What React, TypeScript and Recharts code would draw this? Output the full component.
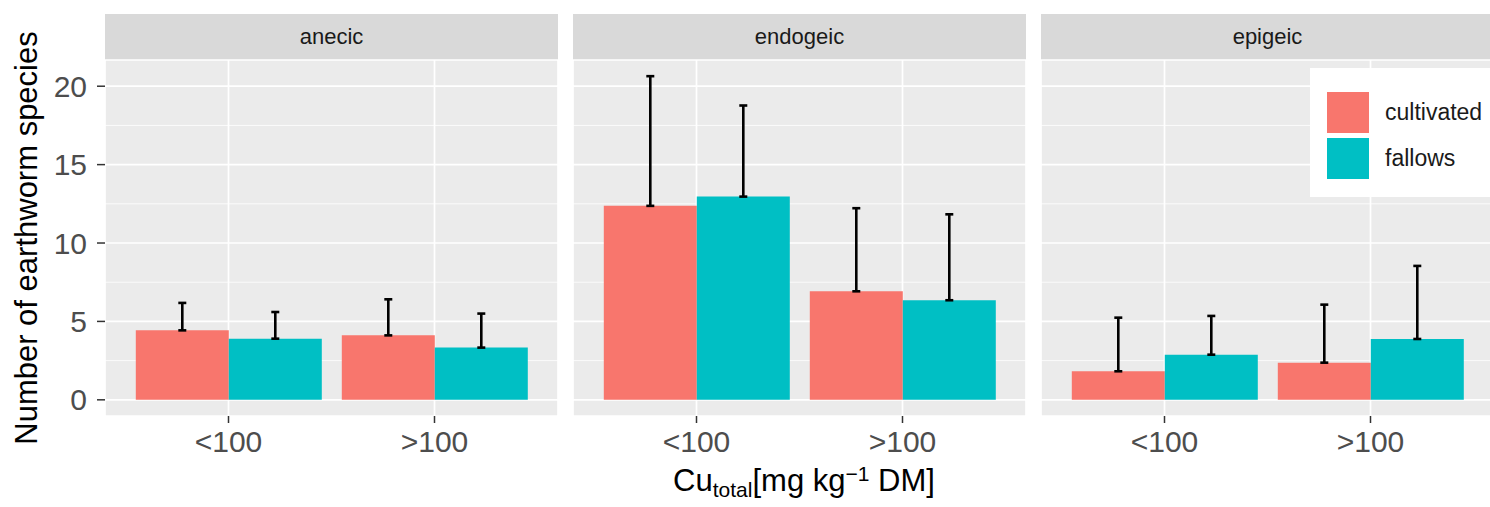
import React from 'react';
import { BarChart, Bar, XAxis, YAxis, CartesianGrid, ErrorBar } from 'recharts';

const facets = ['anecic', 'endogeic', 'epigeic'];
const categories = ['<100', '>100'];
const seriesNames = ['cultivated', 'fallows'];
const seriesColors = ['#F8766D', '#00BFC4'];

// mean values per facet (rows) and Cu class (cols)
const cultivatedMean = [
  [4.43, 4.11],
  [12.37, 6.92],
  [1.82, 2.37],
];
const cultivatedUpper = [
  [6.18, 6.41],
  [20.64, 12.22],
  [5.24, 6.07],
];
const fallowsMean = [
  [3.9, 3.33],
  [12.96, 6.35],
  [2.88, 3.88],
];
const fallowsUpper = [
  [5.6, 5.5],
  [18.77, 11.83],
  [5.35, 8.54],
];

const yTicks = [0, 5, 10, 15, 20];
const yMinor = [2.5, 7.5, 12.5, 17.5];
const yDomain: [number, number] = [-1.032, 21.672];

const FONT = '"Liberation Sans", Arial, Helvetica, sans-serif';

const PANEL_W = 453;
const PANEL_GAP = 15;
const FIRST_LEFT = 105;
const PLOT_TOP = 60;
const PLOT_BOTTOM = 416;
const STRIP_TOP = 14;
const X_AXIS_H = 60;
const CHART_H = PLOT_BOTTOM + X_AXIS_H;

const panelData = facets.map((_, i) =>
  categories.map((c, j) => ({
    cat: c,
    cultivated: cultivatedMean[i][j],
    fallows: fallowsMean[i][j],
    cultivatedErr: [0, +(cultivatedUpper[i][j] - cultivatedMean[i][j]).toFixed(3)],
    fallowsErr: [0, +(fallowsUpper[i][j] - fallowsMean[i][j]).toFixed(3)],
  }))
);

function Panel({ index }: { index: number }) {
  const withY = index === 0;
  const panelLeft = FIRST_LEFT + index * (PANEL_W + PANEL_GAP);
  const chartLeft = withY ? 0 : panelLeft;
  const chartW = withY ? FIRST_LEFT + PANEL_W : PANEL_W;
  return (
    <>
      <div
        style={{
          position: 'absolute',
          left: panelLeft,
          top: STRIP_TOP,
          width: PANEL_W,
          height: PLOT_TOP - STRIP_TOP,
          background: '#D9D9D9',
          color: '#1A1A1A',
          fontFamily: FONT,
          fontSize: 22,
          lineHeight: `${PLOT_TOP - STRIP_TOP}px`,
          textAlign: 'center',
        }}
      >
        {facets[index]}
      </div>
      <div style={{ position: 'absolute', left: chartLeft, top: 0 }}>
        <BarChart
          width={chartW}
          height={CHART_H}
          data={panelData[index]}
          margin={{ top: PLOT_TOP, right: 0, bottom: 0, left: 0 }}
          barCategoryGap="5%"
          barGap={0}
        >
          <CartesianGrid
            fill="#EBEBEB"
            stroke="#FFFFFF"
            strokeWidth={1.7}
            strokeDasharray=""
          />
          <CartesianGrid
            horizontalValues={yMinor}
            vertical={false}
            stroke="#FFFFFF"
            strokeWidth={0.8}
          />
          <XAxis
            dataKey="cat"
            axisLine={false}
            tickLine={{ stroke: '#333333', strokeWidth: 1.5 }}
            tickSize={7}
            tickMargin={8}
            height={X_AXIS_H}
            interval={0}
            padding={{ left: 20.5, right: 20.5 }}
            tick={{ fill: '#4D4D4D', fontSize: 30, fontFamily: FONT }}
          />
          <YAxis
            hide={!withY}
            width={FIRST_LEFT}
            type="number"
            domain={yDomain}
            allowDataOverflow
            ticks={yTicks}
            axisLine={false}
            tickLine={{ stroke: '#333333', strokeWidth: 1.5 }}
            tickSize={8}
            tickMargin={10}
            tick={{ fill: '#4D4D4D', fontSize: 30, fontFamily: FONT }}
          />
          <Bar dataKey="cultivated" fill={seriesColors[0]} isAnimationActive={false}>
            <ErrorBar
              dataKey="cultivatedErr"
              direction="y"
              width={4}
              stroke="#000000"
              strokeWidth={2.6}
              isAnimationActive={false}
            />
          </Bar>
          <Bar dataKey="fallows" fill={seriesColors[1]} isAnimationActive={false}>
            <ErrorBar
              dataKey="fallowsErr"
              direction="y"
              width={4}
              stroke="#000000"
              strokeWidth={2.6}
              isAnimationActive={false}
            />
          </Bar>
        </BarChart>
      </div>
    </>
  );
}

function Legend() {
  return (
    <div
      style={{
        position: 'absolute',
        left: 1310,
        top: 68,
        width: 180,
        height: 129,
        background: '#FFFFFF',
        fontFamily: FONT,
      }}
    >
      {seriesNames.map((name, i) => (
        <div
          key={name}
          style={{
            position: 'absolute',
            left: 17,
            top: 24 + i * 46,
            height: 41,
            display: 'flex',
            alignItems: 'center',
          }}
        >
          <div style={{ width: 42, height: 41, background: seriesColors[i] }} />
          <div
            style={{
              marginLeft: 16,
              fontSize: 23,
              color: '#1A1A1A',
              lineHeight: '41px',
              whiteSpace: 'nowrap',
            }}
          >
            {name}
          </div>
        </div>
      ))}
    </div>
  );
}

export default function App() {
  return (
    <div
      style={{
        position: 'absolute',
        left: 0,
        top: 0,
        width: 1490,
        height: 507,
        overflow: 'hidden',
        background: '#FFFFFF',
      }}
    >
      {facets.map((f, i) => (
        <Panel key={f} index={i} />
      ))}
      <Legend />
      <svg
        width={1490}
        height={507}
        style={{ position: 'absolute', left: 0, top: 0, pointerEvents: 'none' }}
      >
        <text
          x={37}
          y={238}
          transform="rotate(-90 37 238)"
          textAnchor="middle"
          fontFamily={FONT}
          fontSize={31}
          fill="#000000"
        >
          Number of earthworm species
        </text>
        <text
          x={804}
          y={491}
          textAnchor="middle"
          fontFamily={FONT}
          fontSize={31}
          fill="#000000"
        >
          <tspan>Cu</tspan>
          <tspan fontSize={21} dy={6}>total</tspan>
          <tspan dy={-6}>[mg kg</tspan>
          <tspan fontSize={21} dy={-10}>−1</tspan>
          <tspan dy={10}> DM]</tspan>
        </text>
      </svg>
    </div>
  );
}
